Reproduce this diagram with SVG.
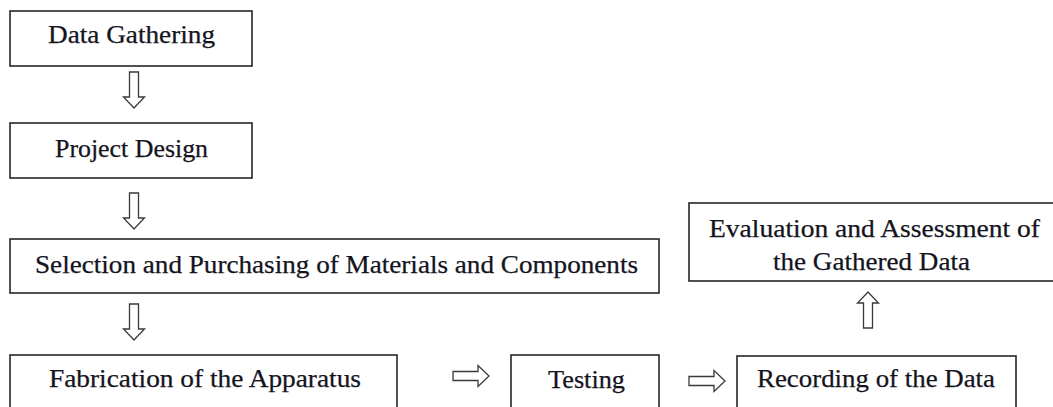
<svg xmlns="http://www.w3.org/2000/svg" width="1053" height="407" viewBox="0 0 1053 407">
<style>
.box{fill:#fff;stroke:#262626;stroke-width:1.6}
.lbl{font-family:"Liberation Serif","Times New Roman",serif;font-size:25px;fill:#14141e;stroke:#14141e;stroke-width:0.25;text-anchor:middle}
.arr{fill:#fff;stroke:#3a3a3a;stroke-width:1.3;stroke-linejoin:miter}
</style>
<defs>
<path id="down" d="M-4.5,0 L4.5,0 L4.5,25 L10.5,25 L0,36 L-10.5,25 L-4.5,25 Z"/>
</defs>
<rect width="1053" height="407" fill="#fff"/>
<g id="connectors">
<use href="#down" class="arr" x="134" y="72"/>
<use href="#down" class="arr" x="134" y="193"/>
<use href="#down" class="arr" x="134" y="304"/>
<use href="#down" class="arr" transform="translate(453,376) rotate(-90)"/>
<use href="#down" class="arr" transform="translate(689,381) rotate(-90)"/>
<use href="#down" class="arr" transform="translate(868,328) rotate(180)"/>
</g>
<g id="n1"><rect class="box" x="10" y="11" width="242" height="55"/><text class="lbl" x="131.5" y="43" textLength="167" lengthAdjust="spacingAndGlyphs">Data Gathering</text></g>
<g id="n2"><rect class="box" x="10" y="123" width="242" height="55"/><text class="lbl" x="131.5" y="157" textLength="153" lengthAdjust="spacingAndGlyphs">Project Design</text></g>
<g id="n3"><rect class="box" x="10" y="239" width="649" height="54"/><text class="lbl" x="336.5" y="273" textLength="603" lengthAdjust="spacingAndGlyphs">Selection and Purchasing of Materials and Components</text></g>
<g id="n4"><rect class="box" x="10" y="355" width="387" height="70"/><text class="lbl" x="205" y="387" textLength="312" lengthAdjust="spacingAndGlyphs">Fabrication of the Apparatus</text></g>
<g id="n5"><rect class="box" x="511" y="355" width="148" height="70"/><text class="lbl" x="586.5" y="388" textLength="77" lengthAdjust="spacingAndGlyphs">Testing</text></g>
<g id="n6"><rect class="box" x="737" y="356" width="279" height="70"/><text class="lbl" x="876" y="387" textLength="238" lengthAdjust="spacingAndGlyphs">Recording of the Data</text></g>
<g id="n7"><rect class="box" x="689" y="203" width="372" height="78"/><text class="lbl" x="874.5" y="237" textLength="331" lengthAdjust="spacingAndGlyphs">Evaluation and Assessment of</text><text class="lbl" x="871.5" y="270" textLength="197" lengthAdjust="spacingAndGlyphs">the Gathered Data</text></g>
</svg>
